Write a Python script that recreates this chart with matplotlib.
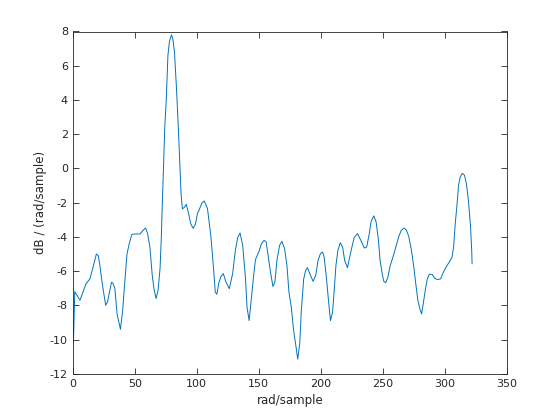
# psd_curve.py
# Power spectral density style line plot (MATLAB-like look)

import matplotlib
matplotlib.use("Agg")
import matplotlib.pyplot as plt

plt.rcParams["axes.unicode_minus"] = False   # plain hyphen like the original

# frequency bins (rad/sample)
freq = [0, 0.5, 1.6, 5.8, 10.6, 13.8, 15.9, 19.0, 20.6, 21.7, 23.8, 26.5, 28.0,
        31.2, 32.3, 33.9, 35.7, 38.4, 40.2, 41.8, 43.7, 45.5, 47.6, 50.3, 54.2,
        56.9, 58.7, 60.3, 62.2, 64.0, 65.6, 67.2, 68.8, 70.4, 71.4, 72.2, 73.0,
        74.1, 75.4, 76.7, 78.0, 79.6, 80.7, 82.0, 83.6, 84.7, 86.0, 87.3, 88.4,
        90.0, 91.5, 93.1, 95.2, 97.1, 98.9, 100.5, 102.0, 104.3, 106.0, 108.6,
        111.4, 113.2, 114.9, 116.2, 117.6, 119.5, 121.4, 123.5, 126.2, 128.9,
        131.1, 133.0, 134.9, 137.0, 139.2, 140.5, 142.2, 143.8, 145.7, 147.3,
        150.0, 152.2, 154.3, 155.9, 157.3, 159.2, 161.4, 163.0, 164.6, 166.8,
        168.6, 170.8, 172.7, 174.3, 176.2, 178.1, 179.7, 181.4, 183.0, 184.3,
        186.2, 187.8, 189.2, 191.1, 193.8, 195.9, 197.8, 199.7, 201.4, 202.7,
        204.6, 206.2, 207.8, 209.5, 210.8, 212.2, 213.8, 215.7, 217.6, 219.2,
        221.5, 224.2, 226.9, 229.6, 232.3, 235.1, 237.0, 239.1, 240.5, 242.7,
        244.6, 246.5, 247.8, 249.5, 250.8, 252.4, 254.1, 256.0, 258.2, 260.9,
        263.0, 264.9, 267.1, 269.0, 270.9, 273.1, 275.0, 276.6, 278.3, 279.9,
        281.3, 282.6, 284.2, 285.9, 287.5, 289.7, 291.8, 294.0, 296.7, 298.9,
        301.1, 303.3, 305.7, 307.1, 308.4, 309.8, 311.1, 312.5, 314.1, 315.8,
        317.4, 319.0, 320.7, 321.7, 322.0]

# power in dB / (rad/sample)
power_db = [-8.8, -10.2, -7.2, -7.7, -6.75, -6.45, -5.9, -5.0, -5.1, -5.6,
            -6.75, -8.0, -7.8, -6.65, -6.7, -7.0, -8.5, -9.4, -8.3, -6.75,
            -5.0, -4.4, -3.85, -3.83, -3.83, -3.6, -3.48, -3.8, -4.6, -6.2,
            -7.1, -7.6, -7.1, -5.8, -4.0, -2.0, -0.3, 2.3, 4.05, 6.6, 7.45,
            7.8, 7.55, 6.8, 4.7, 3.0, 0.84, -1.5, -2.37, -2.27, -2.1, -2.55,
            -3.25, -3.5, -3.25, -2.65, -2.4, -2.0, -1.9, -2.34, -4.0, -5.57,
            -7.23, -7.35, -6.74, -6.31, -6.15, -6.64, -7.03, -6.15, -4.79,
            -4.04, -3.77, -4.49, -6.35, -8.11, -8.89, -7.72, -6.35, -5.33,
            -4.88, -4.39, -4.2, -4.3, -4.98, -5.96, -6.9, -6.64, -5.37, -4.49,
            -4.26, -4.69, -5.67, -7.23, -8.11, -9.48, -10.26, -11.14, -10.26,
            -8.3, -6.45, -5.96, -5.8, -6.15, -6.6, -6.25, -5.37, -4.98, -4.88,
            -5.18, -6.45, -7.72, -8.89, -8.4, -7.13, -5.67, -4.79, -4.34, -4.6,
            -5.37, -5.8, -4.88, -4.04, -3.81, -4.2, -4.65, -4.6, -3.81, -3.12,
            -2.77, -3.12, -4.2, -5.37, -6.15, -6.6, -6.68, -6.35, -5.67, -5.18,
            -4.49, -3.96, -3.61, -3.48, -3.61, -3.96, -4.79, -5.76, -6.74,
            -7.72, -8.21, -8.5, -7.92, -7.13, -6.45, -6.19, -6.19, -6.41, -6.5,
            -6.45, -6.06, -5.76, -5.5, -5.22, -4.6, -3.24, -2.15, -0.97, -0.49,
            -0.29, -0.39, -0.88, -1.85, -3.32, -4.79, -5.57]

x_ticks = [0, 50, 100, 150, 200, 250, 300, 350]
y_ticks = [-12, -10, -8, -6, -4, -2, 0, 2, 4, 6, 8]

AXIS_COLOR = "#262626"
LINE_COLOR = "#0072bd"


def main():
    fig = plt.figure(figsize=(5.6, 4.2), dpi=100)
    ax = fig.add_axes([0.13, 0.11, 0.775, 0.815])

    ax.plot(freq, power_db, color=LINE_COLOR, linewidth=0.7)

    ax.set_xlim(0, 350)
    ax.set_ylim(-12, 8)
    ax.set_xticks(x_ticks)
    ax.set_yticks(y_ticks)

    ax.tick_params(direction="in", top=True, right=True, length=4,
                   width=0.6, colors=AXIS_COLOR, labelsize=8)
    for sp in ax.spines.values():
        sp.set_color(AXIS_COLOR)
        sp.set_linewidth(0.6)

    ax.set_xlabel("rad/sample", fontsize=8.5, color=AXIS_COLOR, labelpad=4)
    ax.set_ylabel("dB / (rad/sample)", fontsize=8.5, color=AXIS_COLOR)
    ax.yaxis.set_label_coords(-0.06, 0.5)

    fig.savefig("out.png", dpi=100)


if __name__ == "__main__":
    main()
